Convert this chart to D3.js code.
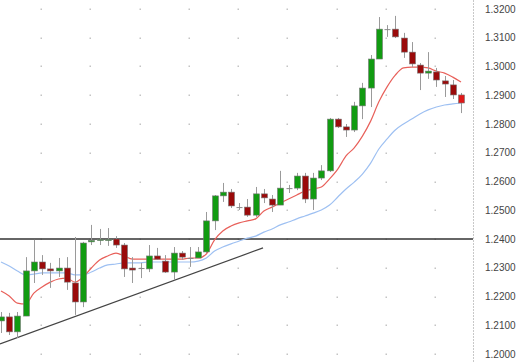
<!DOCTYPE html>
<html>
<head>
<meta charset="utf-8">
<script src="https://cdn.jsdelivr.net/npm/d3@7"></script>
<style>
  body { margin: 0; background: #fff; }
  svg { display: block; }
  .tick text { font-family: "Liberation Sans", Arial, sans-serif; font-size: 10px; fill: #444; }
</style>
</head>
<body>
<div id="area"></div>
<script>
// candle data
var opens  = [1.2115,1.2129,1.2077,1.2132,1.2289,1.2320,1.2296,1.2289,1.2299,1.2247,1.2181,1.2390,1.2395,1.2397,1.2400,1.2379,1.2299,1.2299,1.2296,1.2341,1.2323,1.2285,1.2351,1.2334,1.2334,1.2355,1.2463,1.2550,1.2563,1.2511,1.2511,1.2483,1.2557,1.2539,1.2518,1.2577,1.2577,1.2619,1.2539,1.2612,1.2637,1.2817,1.2790,1.2779,1.2863,1.2925,1.3026,1.3130,1.3130,1.3099,1.3050,1.3005,1.2977,1.2981,1.2950,1.2936,1.2901];
var highs  = [1.2146,1.2143,1.2146,1.2337,1.2397,1.2344,1.2317,1.2334,1.2337,1.2407,1.2390,1.2449,1.2435,1.2438,1.2410,1.2386,1.2337,1.2317,1.2379,1.2369,1.2344,1.2372,1.2358,1.2372,1.2372,1.2494,1.2553,1.2595,1.2574,1.2525,1.2539,1.2581,1.2574,1.2553,1.2637,1.2588,1.2630,1.2630,1.2630,1.2657,1.2821,1.2821,1.2800,1.2877,1.2943,1.3040,1.3172,1.3144,1.3176,1.3117,1.3085,1.3012,1.3050,1.2995,1.2967,1.2953,1.2908];
var lows   = [1.2073,1.2066,1.2056,1.2132,1.2247,1.2275,1.2230,1.2268,1.2223,1.2136,1.2163,1.2379,1.2379,1.2376,1.2369,1.2268,1.2247,1.2264,1.2285,1.2327,1.2282,1.2257,1.2327,1.2303,1.2334,1.2351,1.2431,1.2529,1.2508,1.2501,1.2477,1.2477,1.2525,1.2494,1.2518,1.2560,1.2570,1.2525,1.2501,1.2605,1.2633,1.2786,1.2755,1.2772,1.2817,1.2859,1.3026,1.3103,1.3099,1.3030,1.2998,1.2918,1.2957,1.2929,1.2894,1.2887,1.2838];
var closes = [1.2129,1.2077,1.2132,1.2289,1.2320,1.2296,1.2289,1.2299,1.2250,1.2181,1.2386,1.2395,1.2398,1.2398,1.2379,1.2296,1.2292,1.2299,1.2341,1.2330,1.2285,1.2351,1.2337,1.2334,1.2355,1.2463,1.2550,1.2563,1.2515,1.2511,1.2483,1.2557,1.2543,1.2518,1.2577,1.2577,1.2619,1.2539,1.2612,1.2637,1.2817,1.2790,1.2779,1.2863,1.2925,1.3026,1.3130,1.3130,1.3103,1.3050,1.3009,1.2977,1.2984,1.2953,1.2939,1.2901,1.2873];

// moving averages as drawn
var maFast = [1.2219,1.2202,1.2177,1.2174,1.2212,1.2233,1.2250,1.2261,1.2264,1.2250,1.2268,1.2299,1.2327,1.2341,1.2351,1.2341,1.2330,1.2330,1.2330,1.2330,1.2330,1.2330,1.2330,1.2334,1.2334,1.2348,1.2397,1.2428,1.2445,1.2456,1.2463,1.2470,1.2497,1.2511,1.2525,1.2539,1.2553,1.2567,1.2574,1.2581,1.2609,1.2643,1.2689,1.2717,1.2758,1.2810,1.2877,1.2929,1.2970,1.2995,1.2998,1.2998,1.2995,1.2984,1.2977,1.2963,1.2946];
var maSlow = [1.2320,1.2306,1.2289,1.2275,1.2278,1.2282,1.2282,1.2282,1.2282,1.2275,1.2275,1.2285,1.2299,1.2310,1.2313,1.2317,1.2317,1.2317,1.2320,1.2320,1.2320,1.2320,1.2320,1.2320,1.2323,1.2334,1.2358,1.2372,1.2383,1.2393,1.2403,1.2410,1.2424,1.2435,1.2449,1.2459,1.2470,1.2480,1.2490,1.2501,1.2518,1.2546,1.2574,1.2598,1.2626,1.2664,1.2713,1.2748,1.2779,1.2800,1.2817,1.2835,1.2849,1.2859,1.2866,1.2870,1.2873];

var yTicks = [1.20,1.21,1.22,1.23,1.24,1.25,1.26,1.27,1.28,1.29,1.30,1.31,1.32];
var gridIdx = [4.87,10.87,16.87,22.87,28.87,34.87,40.87,46.87,52.87];
var level = 1.24;
var trendIdx = [-0.12, 31.9];
var trendVal = [1.2035, 1.2369];

var width = 517, height = 363, axisX = 473;

var svg = d3.select('#area').append('svg')
            .attr('width', width)
            .attr('height', height);

var x = d3.scaleLinear().domain([0, 56]).range([1, 461]);
var y = d3.scaleLinear().domain([1.20, 1.32]).range([354, 9]);

// grid dots
var dots = [];
gridIdx.forEach(function(g) { yTicks.forEach(function(t) { dots.push([g, t]); }); });
svg.append('g').selectAll('rect').data(dots).enter().append('rect')
   .attr('x', function(d) { return Math.round(x(d[0])) - 0.5; })
   .attr('y', function(d) { return Math.round(y(d[1])) - 0.5; })
   .attr('width', 1.5).attr('height', 1.5)
   .attr('fill', '#c4c4c4');

// right axis
svg.append('line')
   .attr('x1', axisX + 0.5).attr('x2', axisX + 0.5)
   .attr('y1', 0).attr('y2', height)
   .attr('stroke', '#c8c8c8').attr('stroke-dasharray', '2,1');

var yAxis = d3.axisRight(y).tickValues(yTicks)
              .tickFormat(d3.format('.4f'))
              .tickSize(0).tickPadding(12);
svg.append('g').attr('transform', 'translate(' + axisX + ',0)')
   .call(yAxis)
   .call(function(g) { g.select('.domain').remove(); });

// resistance level
svg.append('line')
   .attr('x1', 0).attr('x2', axisX)
   .attr('y1', y(level)).attr('y2', y(level))
   .attr('stroke', '#333').attr('stroke-width', 1.5);

// trendline
svg.append('line')
   .attr('x1', x(trendIdx[0])).attr('y1', y(trendVal[0]))
   .attr('x2', x(trendIdx[1])).attr('y2', y(trendVal[1]))
   .attr('stroke', '#444').attr('stroke-width', 1.2);

// moving averages
var line = d3.line().x(function(d, i) { return x(i); }).y(function(d) { return y(d); }).curve(d3.curveMonotoneX);
svg.append('path').datum(maSlow).attr('d', line)
   .attr('fill', 'none').attr('stroke', '#9ec0f2').attr('stroke-width', 1.2);
svg.append('path').datum(maFast).attr('d', line)
   .attr('fill', 'none').attr('stroke', '#e8605a').attr('stroke-width', 1.2);

// candles
var idx = d3.range(opens.length);
var candles = svg.append('g');
candles.selectAll('line.wick').data(idx).enter().append('line')
   .attr('class', 'wick')
   .attr('x1', function(i) { return Math.round(x(i)) + 0.5; })
   .attr('x2', function(i) { return Math.round(x(i)) + 0.5; })
   .attr('y1', function(i) { return y(highs[i]); })
   .attr('y2', function(i) { return y(lows[i]); })
   .attr('stroke', '#9a9a9a').attr('stroke-width', 1);

candles.selectAll('rect.body').data(idx).enter().append('rect')
   .attr('class', 'body')
   .attr('x', function(i) { return Math.round(x(i)) - 2.5; })
   .attr('width', 6)
   .attr('y', function(i) { return y(Math.max(opens[i], closes[i])); })
   .attr('height', function(i) { return Math.max(1, Math.abs(y(opens[i]) - y(closes[i]))); })
   .attr('fill', function(i) {
       if (Math.abs(opens[i] - closes[i]) < 0.00005) return '#888';
       if (i === opens.length - 1) return '#e01818';
       return closes[i] >= opens[i] ? '#119b11' : '#9a0a0a';
   })
   .attr('stroke', function(i) { return Math.abs(opens[i] - closes[i]) < 0.00005 ? 'none' : '#777'; })
   .attr('stroke-width', 0.6);
</script>
</body>
</html>
